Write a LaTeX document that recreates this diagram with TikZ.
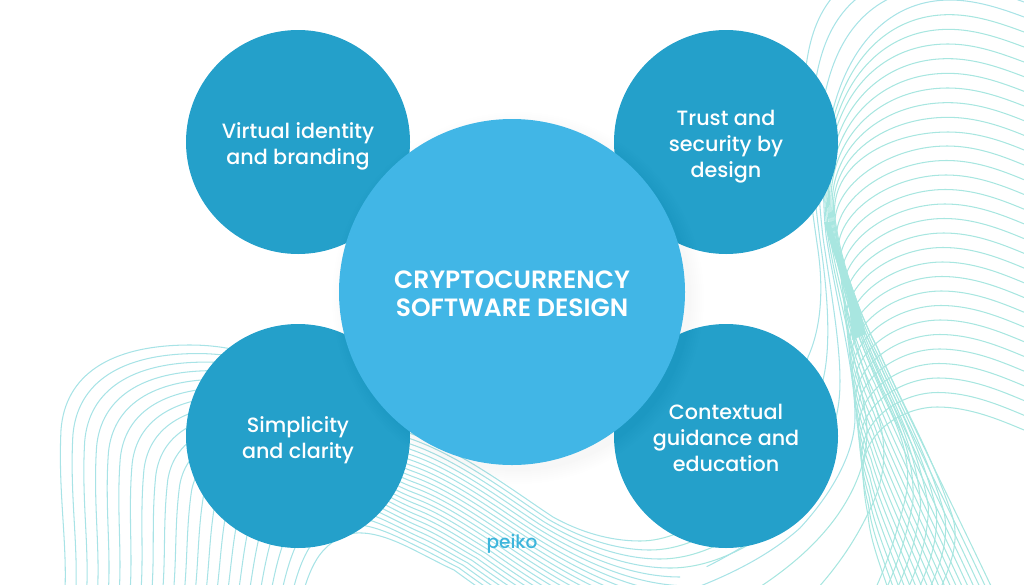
\documentclass[tikz,border=0pt]{standalone}
\usepackage{fontspec}
\setmainfont{Poppins}[UprightFont=* Medium,BoldFont=* SemiBold]
\usetikzlibrary{calc}
\definecolor{disc}{HTML}{24A0CA}
\definecolor{hub}{HTML}{41B6E6}
\definecolor{waveA}{HTML}{A8E3E6}
\definecolor{waveB}{HTML}{A8E6E0}
\definecolor{logoc}{HTML}{3DB5DC}
\newcommand{\keycurve}[2]{\foreach \p [count=\i from 0] in {#2} {\path \p coordinate (#1-\i);}}
\newcommand{\lp}[3]{($(#1-#3)!\tval!(#2-#3)$)}
% bundle: key a, key b, list of k, total, number of segments, style
\newcommand{\bundle}[6]{%
  \foreach \k in {#3} {%
    \pgfmathsetmacro{\tval}{\k/#4}
    \draw[#6] \lp{#1}{#2}{0}
      \foreach \s [evaluate=\s as \ia using int(3*\s-2),evaluate=\s as \ib using int(3*\s-1),evaluate=\s as \ic using int(3*\s)] in {1,...,#5} {
        .. controls \lp{#1}{#2}{\ia} and \lp{#1}{#2}{\ib} .. \lp{#1}{#2}{\ic}
      };
  }}
\tikzset{
  lineA/.style={draw=waveA,line width=1.05pt},
  lineB/.style={draw=waveB,line width=1.05pt},
  discnode/.style={circle,fill=disc,minimum size=224pt,inner sep=0pt},
  disctext/.style={text=white,align=center,inner sep=0pt,font=\fontsize{20.7}{26}\selectfont},
  hubnode/.style={circle,fill=hub,minimum size=346pt,inner sep=0pt},
  hubtext/.style={text=white,align=center,inner sep=0pt,font=\fontsize{25}{28}\selectfont\bfseries},
  glow/.style={circle,fill=black,fill opacity=0.003,inner sep=0pt},
  logotext/.style={text=logoc,font=\fontsize{18.5}{20}\selectfont,inner sep=0pt}
}
\begin{document}
\begin{tikzpicture}[x=1pt,y=-1pt]
\useasboundingbox (0,0) rectangle (1024,584);
\begin{scope}
\clip (0,0) rectangle (1024,584);
% left family
\keycurve{La}{(65,590),(67,540),(58,490),(61,430),(65,375),(110,345),(190,345),(290,345),(340,410),(409,433),(460,450),(515,492),(553,517),(580,532),(610,541),(640,541)}
\keycurve{Lb}{(304,590),(308,575),(315,560),(322,552),(330,543),(340,535),(356,533),(375,532),(395,540),(420,553),(432,559),(443,565),(454,570),(550,640),(700,739),(860,739)}
\bundle{La}{Lb}{0,...,22}{22}{5}{lineA}
\keycurve{Ra}{(640,541),(665,541),(690,530),(720,510)}
\keycurve{Rb}{(860,739),(960,739),(1040,700),(1105,658)}
\bundle{Ra}{Rb}{0,...,3}{22}{1}{lineB}
% right family, S curves
\keycurve{K0}{(1024,-28),(1000,-36),(975,-43),(950,-43),(790,-43),(790,60),(818,250),(825,300),(818,335),(808,357),(800,385),(795,420),(785,450),(775,480),(760,500),(740,520)}
\keycurve{K1}{(1024,17),(1000,8),(975,0),(950,0),(860,0),(812,100),(826,235),(836,300),(855,370),(855,417),(855,450),(835,490),(800,528),(770,555),(730,575),(690,590)}
\keycurve{K2}{(1024,62),(1000,53),(975,44),(948,44),(865,44),(814,120),(830,228),(840,285),(860,345),(885,400),(905,440),(912,470),(905,500),(895,540),(885,570),(870,600)}
\keycurve{K3}{(1024,150),(1000,140),(975,132),(948,132),(885,132),(824,168),(836,225),(842,265),(860,315),(877,347),(900,400),(930,450),(952,515),(960,540),(952,565),(935,600)}
\bundle{K0}{K1}{0,...,3}{3}{5}{lineA}
\bundle{K1}{K2}{1,...,3}{3}{5}{lineB}
\bundle{K2}{K3}{1,...,6}{6}{5}{lineB}
% right family, C curves
\keycurve{C0}{(1024,165),(1000,155),(975,146),(947,146),(885,146),(826,190),(836,232),(842,265),(860,315),(877,347),(900,400),(960,520),(1000,605)}
\keycurve{C1}{(1024,430),(1000,420),(970,407),(937,407),(905,407),(861,430),(863,475),(864,495),(866,505),(868,515),(870,540),(880,565),(892,600)}
\bundle{C0}{C1}{0,...,18}{18}{4}{lineB}
% the solid part of the band, where the curves run together
\fill[waveB] (824,222) .. controls (830,245) and (840,270) .. (848,300) .. controls (850,312) and (851,325) .. (852,340)
  -- (866,334) .. controls (863,322) and (861,312) .. (857,300) .. controls (850,280) and (840,255) .. (830,222) -- cycle;
\end{scope}
\node[discnode] (tl) at (298,142) {};
\node[discnode] (tr) at (726,142) {};
\node[discnode] (bl) at (298,436) {};
\node[discnode] (br) at (726,436) {};
\foreach \r [count=\n] in {372,368,364,360,356,352,348,346} {
  \node[glow,minimum size=\r pt] (sh\n) at (518,298) {};
}
\node[hubnode] (hub) at (512,292) {};
\node[disctext] (tltext) at (298,146) {Virtual identity\\and branding};
\node[disctext] (trtext) at (726,147) {Trust and\\security by\\design};
\node[disctext] (bltext) at (298,440) {Simplicity\\and clarity};
\node[disctext] (brtext) at (726,438) {Contextual\\guidance and\\education};
\node[hubtext] (hubtitle) at (512,294) {CRYPTOCURRENCY\\SOFTWARE DESIGN};
\node[logotext] (logo) at (512,544) {peiko};
\end{tikzpicture}
\end{document}
